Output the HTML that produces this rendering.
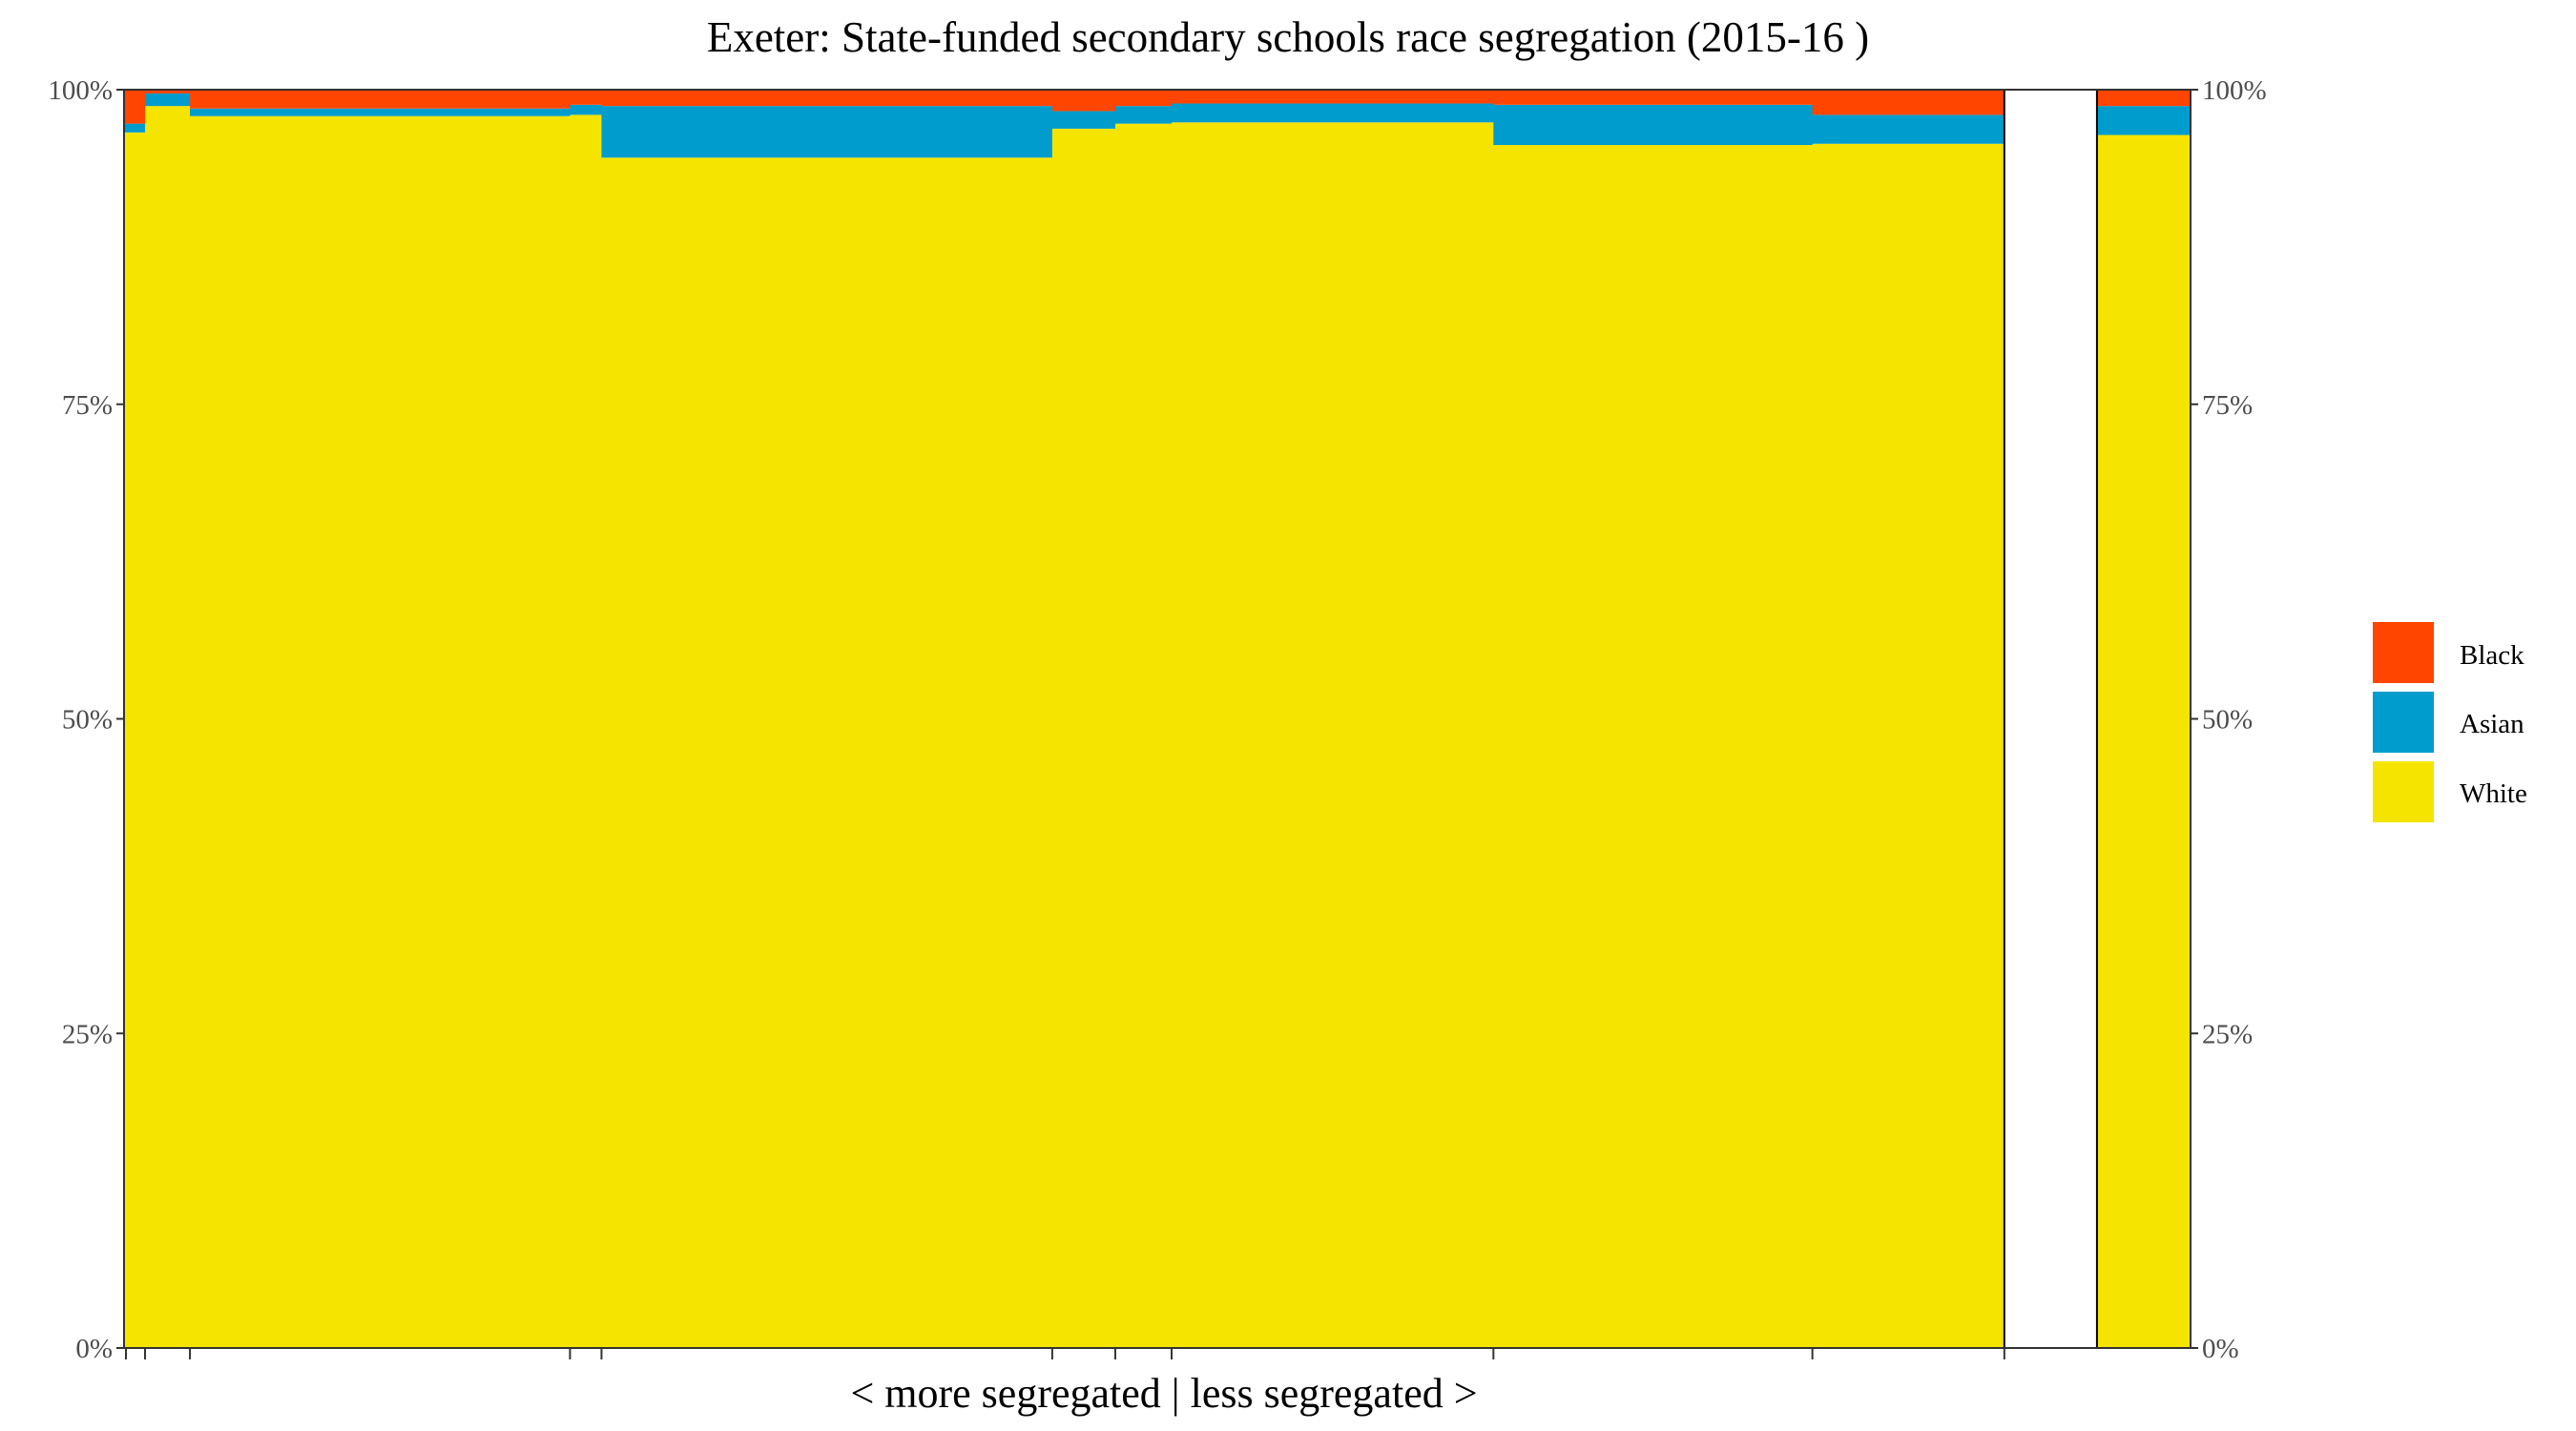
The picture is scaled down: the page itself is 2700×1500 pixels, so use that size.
<!DOCTYPE html>
<html><head><meta charset="utf-8"><style>
html,body{margin:0;padding:0;background:#fff;}
svg{display:block;font-family:"Liberation Serif",serif;}
</style></head><body>
<svg id="chart" width="2700" height="1500" viewBox="0 0 2700 1500" xmlns="http://www.w3.org/2000/svg">
<text x="1350" y="54" text-anchor="middle" font-size="45" fill="#000">Exeter: State-funded secondary schools race segregation (2015-16 )</text>
<g id="bars"></g>
<g id="axes"></g>
<text x="1220" y="1475" text-anchor="middle" font-size="44" fill="#000">&lt; more segregated | less segregated &gt;</text>
<g>
<rect x="2487" y="652" width="64" height="64" fill="#ff4500"/>
<rect x="2487" y="725" width="64" height="64" fill="#009ccd"/>
<rect x="2487" y="798" width="64" height="64" fill="#f5e400"/>
<text x="2578" y="696" font-size="29">Black</text>
<text x="2578" y="768" font-size="29">Asian</text>
<text x="2578" y="841" font-size="29">White</text>
</g>
</svg>
<script>
const schoolSizes = [22, 47, 398, 33, 472, 66, 59, 337, 334, 201];
const whitePct = [96.6, 98.7, 97.9, 98.0, 94.6, 96.9, 97.3, 97.4, 95.6, 95.7];
const asianPct = [0.7, 1.0, 0.6, 0.8, 4.1, 1.4, 1.4, 1.5, 3.2, 2.3];
const blackPct = [2.7, 0.3, 1.5, 1.2, 1.3, 1.7, 1.3, 1.1, 1.2, 2.0];
const overallWhite = 96.4, overallAsian = 2.3, overallBlack = 1.3;
const gapSize = 97, overallSize = 98;
const yTicks = [0, 25, 50, 75, 100];
const yTickLabels = ["0%", "25%", "50%", "75%", "100%"];

const NS = "http://www.w3.org/2000/svg";
const L = 130, R = 2296, T = 94, B = 1413;
const total = schoolSizes.reduce((a, b) => a + b, 0) + gapSize + overallSize;
const xs = v => L + (v / total) * (R - L);
const ys = p => B - (p / 100) * (B - T);
const colors = {white: "#f5e400", asian: "#009ccd", black: "#ff4500"};
const bars = document.getElementById("bars");
const axes = document.getElementById("axes");
function mk(tag, attrs, parent) {
  const e = document.createElementNS(NS, tag);
  for (const k in attrs) e.setAttribute(k, attrs[k]);
  parent.appendChild(e);
  return e;
}
function stack(x0, x1, w, a, b, idx) {
  const segs = [["white", 0, w], ["asian", w, w + a], ["black", w + a, w + a + b]];
  segs.forEach(s => {
    const r = mk("rect", {x: xs(x0), width: xs(x1) - xs(x0) + 0.5, y: ys(s[2]), height: ys(s[1]) - ys(s[2]), fill: colors[s[0]]}, bars);
    
    
  });
}
let cum = 0;
const tickPos = [];
schoolSizes.forEach((s, i) => {
  tickPos.push(cum);
  stack(cum, cum + s, whitePct[i], asianPct[i], blackPct[i], 'school-' + (i + 1));
  cum += s;
});
tickPos.push(cum);
const gapStart = cum;
cum += gapSize;
stack(cum, cum + overallSize, overallWhite, overallAsian, overallBlack, 'overall');
[gapStart, gapStart + gapSize].forEach(v => {
  const l = mk("line", {x1: xs(v), x2: xs(v), y1: T, y2: B, stroke: "#000", "stroke-width": 2}, bars);
  
  
});
const frame = mk("rect", {x: L, y: T, width: R - L, height: B - T, fill: "none", stroke: "#333", "stroke-width": 2}, axes);


yTicks.forEach((t, i) => {
  const y = ys(t);
  const a = mk("line", {x1: L - 8, x2: L, y1: y, y2: y, stroke: "#333", "stroke-width": 2}, axes);
  
  
  const b = mk("line", {x1: R, x2: R + 8, y1: y, y2: y, stroke: "#333", "stroke-width": 2}, axes);
  
  
  const tl = mk("text", {x: L - 12, y: y + 10, "text-anchor": "end", "font-size": 29, fill: "#4d4d4d"}, axes);
  tl.textContent = yTickLabels[i];
  
  
  const tr = mk("text", {x: R + 12, y: y + 10, "text-anchor": "start", "font-size": 29, fill: "#4d4d4d"}, axes);
  tr.textContent = yTickLabels[i];
  
  
});
tickPos.forEach(v => {
  const x = xs(v) + (v === 0 ? 2 : 0);
  const t = mk("line", {x1: x, x2: x, y1: B, y2: B + 12, stroke: "#333", "stroke-width": 2}, axes);
  
  
});
</script>
</body></html>
